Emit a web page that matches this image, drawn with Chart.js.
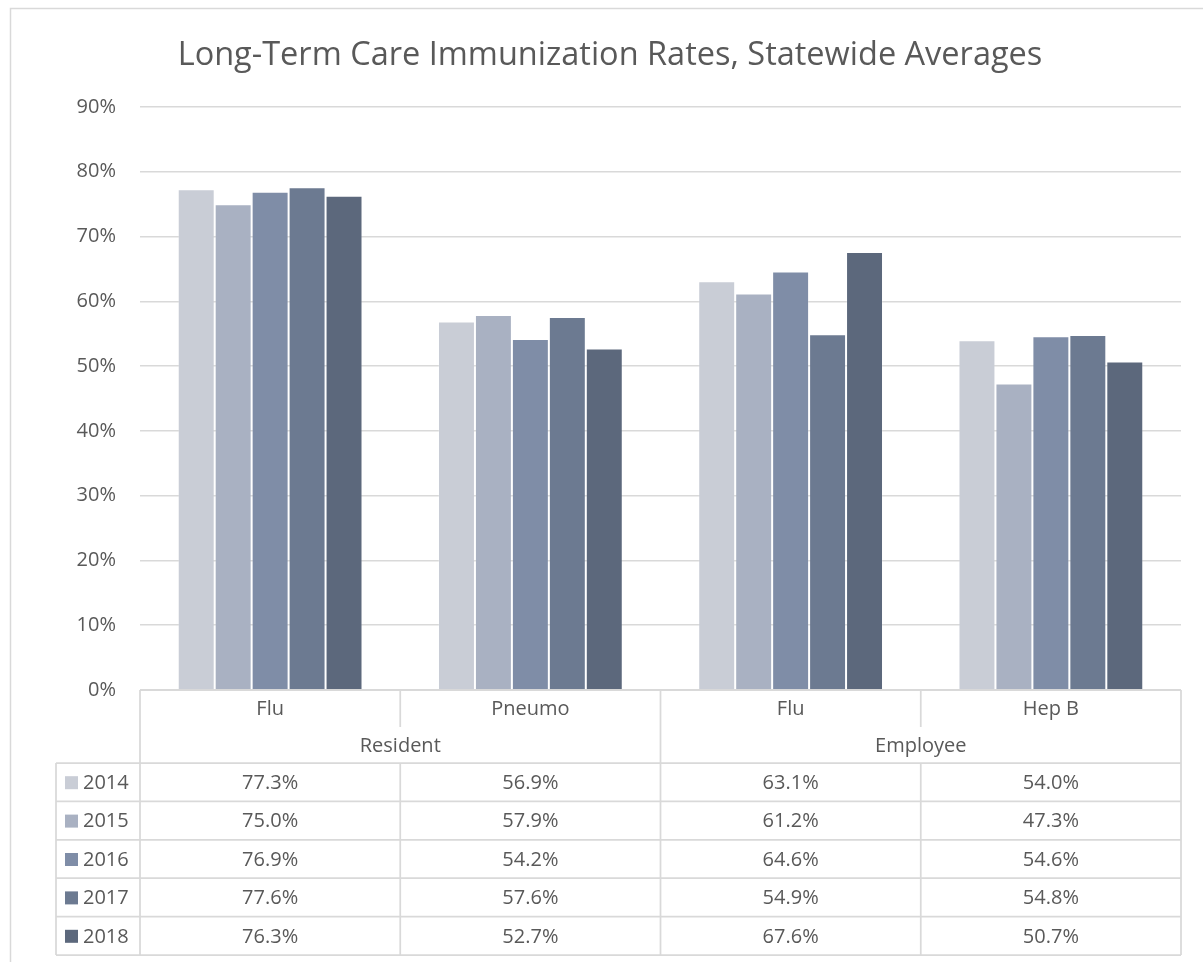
<!DOCTYPE html>
<html><head><meta charset="utf-8">
<script src="https://cdn.jsdelivr.net/npm/chart.js@4.4.1/dist/chart.umd.min.js"></script>
<style>html,body{margin:0;padding:0;background:#fff;}#wrap{position:relative;width:1203px;height:962px;}</style>
</head><body><div id="wrap"><canvas id="c" width="1203" height="962"></canvas></div>
<script>
const chartTitle = 'Long-Term Care Immunization Rates, Statewide Averages';
const categories = ['Flu', 'Pneumo', 'Flu', 'Hep B'];
const groups = ['Resident', 'Employee'];
const years = ['2014', '2015', '2016', '2017', '2018'];
const v2014 = [77.3, 56.9, 63.1, 54.0];
const v2015 = [75.0, 57.9, 61.2, 47.3];
const v2016 = [76.9, 54.2, 64.6, 54.6];
const v2017 = [77.6, 57.6, 54.9, 54.8];
const v2018 = [76.3, 52.7, 67.6, 50.7];
const yTicks = [0, 10, 20, 30, 40, 50, 60, 70, 80, 90];
const seriesColors = ['#C9CDD6', '#A9B1C2', '#7F8DA7', '#6C7A91', '#5C687C'];

const FONT = "'Open Sans', sans-serif";
const TEXT = '#595959';
const LINE = '#D9D9D9';
const allSeries = [v2014, v2015, v2016, v2017, v2018];

const framePlugin = {
  id: 'frame',
  beforeDraw(chart) {
    const ctx = chart.ctx;
    ctx.save();
    ctx.strokeStyle = LINE;
    ctx.lineWidth = 1.5;
    ctx.strokeRect(10.5, 8.5, 1250, 1000);
    ctx.restore();
  }
};

const tablePlugin = {
  id: 'dataTable',
  afterDraw(chart) {
    const ctx = chart.ctx;
    const ca = chart.chartArea;
    const xs = chart.scales.x;
    const half = (xs.getPixelForValue(1) - xs.getPixelForValue(0)) / 2;
    const centers = categories.map((c, i) => xs.getPixelForValue(i));
    const bounds = centers.map(c => c - half);
    bounds.push(centers[centers.length - 1] + half);
    const top = ca.bottom;
    const catRowH = 37, grpRowH = 36, rowH = 38.4;
    const legendLeft = 56;
    const hdrBottom = top + catRowH + grpRowH;
    const tableBottom = hdrBottom + rowH * years.length;

    ctx.save();
    ctx.strokeStyle = LINE;
    ctx.lineWidth = 1.75;
    const line = (x1, y1, x2, y2) => { ctx.beginPath(); ctx.moveTo(x1, y1); ctx.lineTo(x2, y2); ctx.stroke(); };
    line(bounds[0], top, bounds[4], top);
    line(bounds[0], top, bounds[0], tableBottom);
    line(bounds[4], top, bounds[4], tableBottom);
    line(bounds[2], top, bounds[2], tableBottom);
    [1, 3].forEach(i => {
      line(bounds[i], top, bounds[i], top + catRowH);
      line(bounds[i], hdrBottom, bounds[i], tableBottom);
    });
    for (let r = 0; r <= years.length; r++) {
      const y = hdrBottom + r * rowH;
      line(legendLeft, y, bounds[4], y);
    }
    line(legendLeft, hdrBottom, legendLeft, tableBottom);

    ctx.fillStyle = TEXT;
    ctx.font = "20px " + FONT;
    ctx.textBaseline = 'middle';
    ctx.textAlign = 'center';
    categories.forEach((c, i) => ctx.fillText(c, centers[i], top + catRowH / 2 + 1));
    groups.forEach((g, i) => ctx.fillText(g, (bounds[i * 2] + bounds[i * 2 + 2]) / 2, top + catRowH + grpRowH / 2 + 1));
    years.forEach((yr, r) => {
      const cy = hdrBottom + r * rowH + rowH / 2 + 1;
      ctx.fillStyle = seriesColors[r];
      ctx.fillRect(65, cy - 7, 13, 13);
      ctx.fillStyle = TEXT;
      ctx.textAlign = 'left';
      ctx.fillText(yr, 83, cy);
      ctx.textAlign = 'center';
      allSeries[r].forEach((v, i) => ctx.fillText(v.toFixed(1) + '%', centers[i], cy));
    });
    ctx.restore();
  }
};

new Chart(document.getElementById('c'), {
  type: 'bar',
  data: {
    labels: categories,
    datasets: years.map((yr, i) => ({
      label: yr,
      data: allSeries[i],
      backgroundColor: seriesColors[i],
      borderColor: 'rgba(255,255,255,0.18)',
      borderWidth: 1,
      categoryPercentage: 0.71,
      barPercentage: 1.0
    }))
  },
  options: {
    responsive: false,
    animation: false,
    devicePixelRatio: 1,
    layout: { padding: { left: 39, right: 22, top: 0, bottom: 272 } },
    plugins: {
      legend: { display: false },
      tooltip: { enabled: false },
      title: {
        display: true,
        text: chartTitle,
        color: TEXT,
        font: { family: FONT, size: 32.5, weight: 'normal', lineHeight: 1.2 },
        padding: { top: 36, bottom: 32 }
      }
    },
    scales: {
      x: { display: false },
      y: {
        min: 0, max: 90,
        afterFit(scale) { scale.width = 101; },
        afterBuildTicks(scale) { scale.ticks = yTicks.map(v => ({ value: v })); },
        border: { display: false },
        grid: { color: LINE, lineWidth: 1.5, drawTicks: false },
        ticks: {
          padding: 24,
          color: TEXT,
          font: { family: FONT, size: 20 },
          callback: v => v + '%'
        }
      }
    }
  },
  plugins: [framePlugin, tablePlugin]
});
</script>
</body></html>
